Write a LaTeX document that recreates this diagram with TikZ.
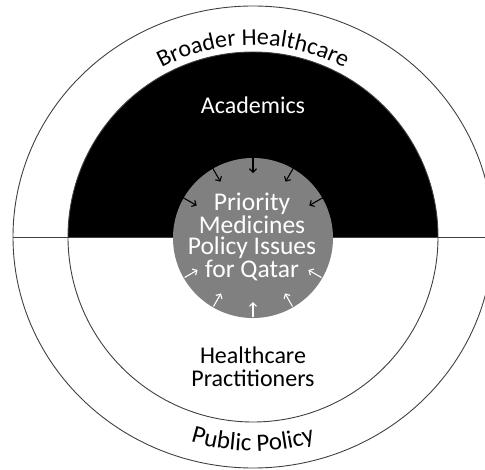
\documentclass[tikz,border=0pt]{standalone}
\usepackage{fontspec}
\setmainfont{Carlito}
\usetikzlibrary{arrows.meta, decorations.text}
\begin{document}
\begin{tikzpicture}[x=1pt, y=1pt,
  ring line/.style={draw=black!75, line width=0.9pt},
  main node/.style={align=center, font=\fontsize{24}{23}\selectfont},
  in arrow/.style={-{Straight Barb[length=3.5pt, width=7pt]}, line width=1.1pt}]
  \tikzstyle{curved text}=[decorate, decoration={text along path, text align=center}]
  \useasboundingbox (-253,-232) rectangle (232,237);

  \draw[ring line] (0,0) ellipse [x radius=240pt, y radius=231pt];
  \fill[black] (185pt,0) arc [start angle=0, end angle=180, radius=185pt] -- cycle;
  \draw[ring line] (0,0) circle [radius=185pt];
  \draw[ring line] (-240,0) -- (240,0);

  \node[circle, fill=black!50, minimum size=160pt, inner sep=0pt] (prio) at (0,-1) {};
  \node[main node, text=white, font=\fontsize{25.5}{20.8}\selectfont] (prio text) at (-1,0) {Priority\\Medicines\\Policy Issues\\for Qatar};
  \node[main node, text=white, anchor=base] (acad) at (0,124) {Academics};
  \node[main node] (prac) at (0,-130) {Healthcare\\Practitioners};

  \foreach \a in {30,60,...,150}
    \draw[in arrow, black] ([shift={(\a:81pt)}]prio.center) -- ([shift={(\a:65pt)}]prio.center);
  \foreach \a in {-30,-60,...,-150}
    \draw[in arrow, white] ([shift={(\a:79pt)}]prio.center) -- ([shift={(\a:64pt)}]prio.center);

  \path[curved text, decoration={text={|\fontsize{24}{24}\selectfont|Broader Healthcare}}]
    (150:192pt) arc [start angle=150, end angle=30, radius=192pt];
  \path[curved text, decoration={text={|\fontsize{25}{25}\selectfont|Public Policy}}]
    (210:214pt) arc [start angle=210, end angle=330, radius=214pt];
\end{tikzpicture}
\end{document}
